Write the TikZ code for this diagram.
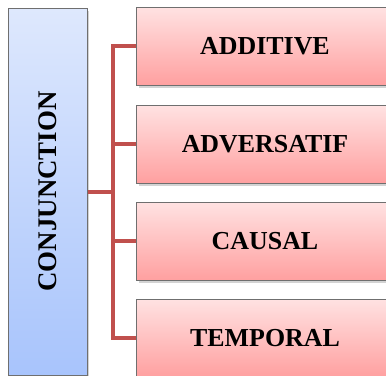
\documentclass[tikz,border=0pt]{standalone}
\usepackage{fontspec}
\setmainfont{Liberation Serif}
\usetikzlibrary{shadows}
\definecolor{connred}{HTML}{C0504D}
\definecolor{pinktop}{HTML}{FFE2E2}
\definecolor{pinkbot}{HTML}{FFA0A0}
\definecolor{bluetop}{HTML}{DEE8FD}
\definecolor{bluebot}{HTML}{A8C4FC}
\definecolor{edgegray}{HTML}{6F6F6F}
\tikzset{
  catbox/.style={draw=edgegray, line width=1bp, top color=pinktop, bottom color=pinkbot,
    minimum width=256bp, minimum height=78bp, inner sep=0pt,
    font=\fontsize{26}{30}\selectfont\bfseries,
    drop shadow={opacity=0.35, shadow xshift=2bp, shadow yshift=-3bp}},
  mainbox/.style={draw=edgegray, line width=1bp, top color=bluetop, bottom color=bluebot,
    minimum width=78bp, minimum height=367bp, inner sep=0pt,
    drop shadow={opacity=0.35, shadow xshift=2bp, shadow yshift=-3bp}},
  conn/.style={draw=connred, line width=4bp}
}
\begin{document}
\begin{tikzpicture}[x=1bp, y=-1bp]
\useasboundingbox (0,0) rectangle (386,376);
\node[mainbox] (L) at (48,191.5) {};
\node[font=\fontsize{27}{30}\selectfont\bfseries, rotate=90] (Lt) at (L.center) {CONJUNCTION};
\coordinate (j) at (113,191.5);
\draw[conn] (L.east) -- (j);
\node[catbox] (b1) at (265,46) {ADDITIVE};
\node[catbox] (b2) at (265,144) {ADVERSATIF};
\node[catbox] (b3) at (265,241) {CAUSAL};
\node[catbox] (b4) at (265,338) {TEMPORAL};
\draw[conn] (j) |- (b1.west);
\draw[conn] (j) |- (b2.west);
\draw[conn] (j) |- (b3.west);
\draw[conn] (j) |- (b4.west);
\end{tikzpicture}
\end{document}
